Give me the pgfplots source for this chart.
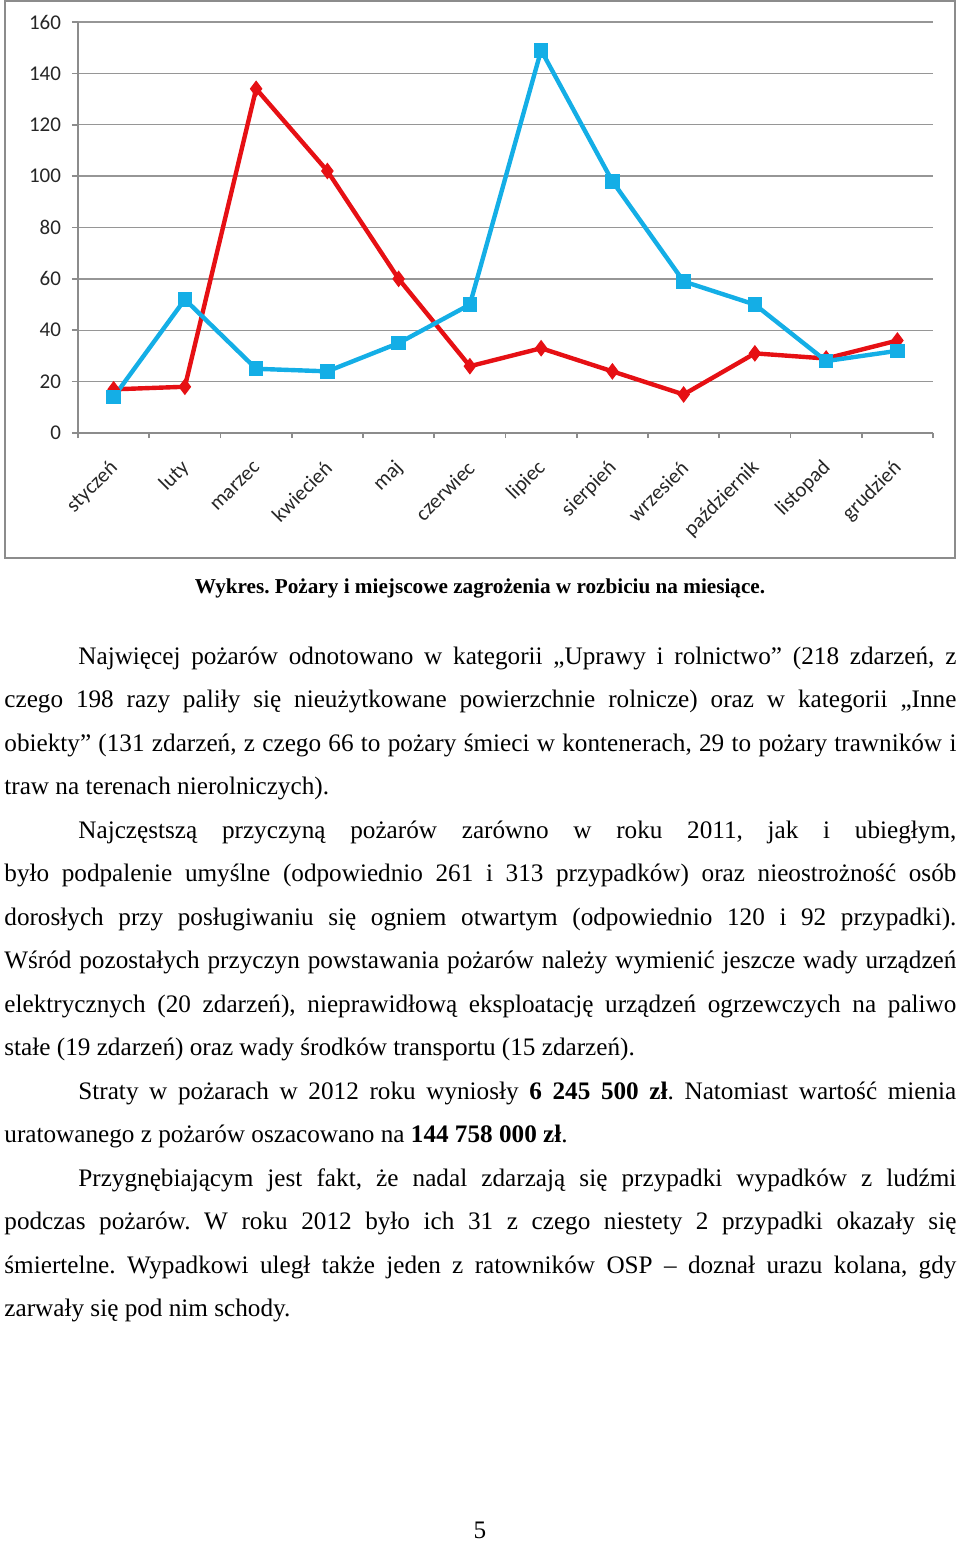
\documentclass[border=0pt]{standalone}
\usepackage{fontspec}
\setmainfont{Liberation Serif}
\newfontfamily\chartfont{Carlito}
\usepackage{pgfplots}
\pgfplotsset{compat=1.18}
\definecolor{cred}{RGB}{230,16,20}
\definecolor{cblue}{RGB}{20,174,230}
\definecolor{gridgray}{RGB}{150,150,150}
\definecolor{framegray}{RGB}{140,140,140}
\newcommand\bodyfont{\fontsize{12.6}{14}\selectfont\frenchspacing}
\newcommand\jl[2]{\node[anchor=base west,inner sep=0pt] at (2pt,-#1pt) {\bodyfont\makebox[476pt][s]{#2}};}
\newcommand\jli[2]{\node[anchor=base west,inner sep=0pt] at (39pt,-#1pt) {\bodyfont\makebox[439pt][s]{#2}};}
\newcommand\pl[2]{\node[anchor=base west,inner sep=0pt] at (2pt,-#1pt) {\bodyfont #2};}
\begin{document}
\frenchspacing
\begin{tikzpicture}
\path[use as bounding box] (0pt,0pt) rectangle (480pt,-770.5pt);
\draw[framegray, line width=1pt] (2.5pt,-0.5pt) rectangle (477.5pt,-279pt);
\begin{axis}[
  at={(39pt,-216.5pt)}, anchor=south west,
  scale only axis, width=427.5pt, height=205.5pt,
  xmin=-0.5, xmax=11.5, ymin=0, ymax=160,
  axis x line*=bottom, axis y line*=left,
  axis line style={-, draw=framegray, line width=0.8pt},
  ytick={0,20,...,160},
  ymajorgrids, grid style={gridgray, line width=0.7pt},
  xtick={0,...,11},
  xticklabels={styczeń,luty,marzec,kwiecień,maj,czerwiec,lipiec,sierpień,wrzesień,październik,listopad,grudzień},
  minor xtick={-0.5,0.5,...,11.5},
  tick align=outside,
  major tick length=3pt, minor tick length=2.5pt,
  major x tick style={draw=none},
  every tick/.style={draw=framegray, line width=0.8pt},
  tick style={draw=framegray, line width=0.8pt},
  /pgf/number format/assume math mode=true,
  yticklabel style={font=\chartfont\fontsize{10.5}{12}\selectfont, text=black!85, anchor=east, xshift=-2pt},
  xticklabel style={font=\chartfont\fontsize{10.5}{12}\selectfont, text=black!85, xshift=3pt, yshift=-10.5pt, rotate=45, anchor=east},
  clip=false,
]
\addplot[cred, line width=2.2pt, mark=diamond*, mark size=3.8pt, mark options={fill=cred, draw=cred, line width=0.5pt}]
  coordinates {(0,17) (1,18) (2,134) (3,102) (4,60) (5,26) (6,33) (7,24) (8,15) (9,31) (10,29) (11,36)};
\addplot[cblue, line width=2.2pt, mark=square*, mark size=3.4pt, mark options={fill=cblue, draw=cblue, line width=0.5pt}]
  coordinates {(0,14) (1,52) (2,25) (3,24) (4,35) (5,50) (6,149) (7,98) (8,59) (9,50) (10,28) (11,32)};
\end{axis}
\node[anchor=base, inner sep=0pt, font=\bfseries\fontsize{10.6}{12}\selectfont] at (240pt,-296.5pt) {Wykres. Pożary i miejscowe zagrożenia w rozbiciu na miesiące.};
\jli{332}{Najwięcej pożarów odnotowano w kategorii „Uprawy i rolnictwo” (218 zdarzeń, z}
\jl{353.75}{czego 198 razy paliły się nieużytkowane powierzchnie rolnicze) oraz w kategorii „Inne}
\jl{375.5}{obiekty” (131 zdarzeń, z czego 66 to pożary śmieci w kontenerach, 29 to pożary trawników i}
\pl{397.25}{traw na terenach nierolniczych).}
\jli{419}{Najczęstszą przyczyną pożarów zarówno w roku 2011, jak i ubiegłym,}
\jl{440.75}{było podpalenie umyślne (odpowiednio 261 i 313 przypadków) oraz nieostrożność osób}
\jl{462.5}{dorosłych przy posługiwaniu się ogniem otwartym (odpowiednio 120 i 92 przypadki).}
\jl{484.25}{Wśród pozostałych przyczyn powstawania pożarów należy wymienić jeszcze wady urządzeń}
\jl{506}{elektrycznych (20 zdarzeń), nieprawidłową eksploatację urządzeń ogrzewczych na paliwo}
\pl{527.75}{stałe (19 zdarzeń) oraz wady środków transportu (15 zdarzeń).}
\jli{549.5}{Straty w pożarach w 2012 roku wyniosły \textbf{6 245 500 zł}. Natomiast wartość mienia}
\pl{571.25}{uratowanego z pożarów oszacowano na \textbf{144 758 000 zł}.}
\jli{593}{Przygnębiającym jest fakt, że nadal zdarzają się przypadki wypadków z ludźmi}
\jl{614.75}{podczas pożarów. W roku 2012 było ich 31 z czego niestety 2 przypadki okazały się}
\jl{636.5}{śmiertelne. Wypadkowi uległ także jeden z ratowników OSP – doznał urazu kolana, gdy}
\pl{658.25}{zarwały się pod nim schody.}
\node[anchor=base, inner sep=0pt, font=\bodyfont] at (240pt,-769pt) {5};
\end{tikzpicture}
\end{document}
